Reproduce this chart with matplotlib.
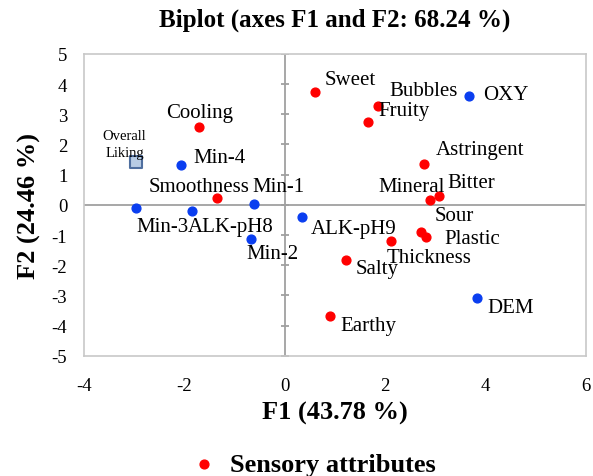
import matplotlib.pyplot as plt

plt.rcParams['font.family'] = ['Liberation Serif', 'DejaVu Serif']
plt.rcParams['axes.unicode_minus'] = False

# Sensory attributes (red)
attr_names = ['Sweet', 'Cooling', 'Bubbles', 'Fruity', 'Astringent', 'Mineral',
              'Bitter', 'Sour', 'Plastic', 'Thickness', 'Salty', 'Earthy', 'Smoothness']
attr_f1 = [0.61, -1.70, 1.86, 1.66, 2.77, 2.89, 3.07, 2.71, 2.81, 2.12, 1.23, 0.91, -1.35]
attr_f2 = [3.74, 2.58, 3.28, 2.75, 1.36, 0.17, 0.30, -0.89, -1.06, -1.19, -1.82, -3.68, 0.23]

# Samples (blue)
samp_names = ['OXY', 'DEM', 'ALK-pH9', 'Min-4', 'Min-1', 'Min-3', 'ALK-pH8', 'Min-2']
samp_f1 = [3.68, 3.84, 0.34, -2.06, -0.61, -2.97, -1.84, -0.67]
samp_f2 = [3.61, -3.08, -0.40, 1.32, 0.03, -0.10, -0.20, -1.13]

# Supplementary variable
sup_name = 'Overall\nLiking'
sup_f1 = [-2.97]
sup_f2 = [1.42]

x_ticks = [-4, -2, 0, 2, 4, 6]
y_ticks = [-5, -4, -3, -2, -1, 0, 1, 2, 3, 4, 5]

# label offsets in pixels (dx, dy)
attr_off = [(35, 12), (0, 14), (46, 15), (36, 11), (56, 14), (-18, 13), (33, 13),
            (34, 16), (47, -2), (38, -17), (31, -9), (38, -10), (-18, 11)]
samp_off = [(36, 1), (33, -10), (52, -12), (38, 7), (24, 17), (27, -19), (38, -16), (21, -15)]

fig = plt.figure(figsize=(5.93, 4.77), dpi=100)
ax = fig.add_axes([0.1417, 0.252, 0.846, 0.633])

ax.axhline(0, color='#a0a0a0', lw=1.3, zorder=1)
ax.axvline(0, color='#a0a0a0', lw=1.3, zorder=1)
ax.plot([0] * len(y_ticks), y_ticks, ls='none', marker='_', ms=6, mew=1.3, color='#a0a0a0', zorder=1)

ax.scatter(attr_f1, attr_f2, s=40, color='#ff0000', zorder=3, label='Sensory attributes')
ax.scatter(samp_f1, samp_f2, s=40, color='#0a3ef0', zorder=3)
ax.scatter(sup_f1, sup_f2, s=85, marker='s', color='#b8cce4', edgecolor='#4f6f9f', lw=1.5, zorder=3)

for n, x, y, (dx, dy) in zip(attr_names, attr_f1, attr_f2, attr_off):
    ax.annotate(n, (x, y), xytext=(dx, dy), textcoords='offset pixels',
                ha='center', va='center', fontsize=15)
for n, x, y, (dx, dy) in zip(samp_names, samp_f1, samp_f2, samp_off):
    ax.annotate(n, (x, y), xytext=(dx, dy), textcoords='offset pixels',
                ha='center', va='center', fontsize=15)
ax.annotate(sup_name, (sup_f1[0], sup_f2[0]), xytext=(-11, 18), textcoords='offset pixels',
            ha='center', va='center', fontsize=10.5, linespacing=1.4)

ax.set_xlim(-4, 6)
ax.set_ylim(-5, 5)
ax.set_xticks(x_ticks)
ax.set_yticks(y_ticks)
ax.tick_params(axis='x', length=0, labelsize=13.5, pad=15)
ax.tick_params(axis='y', length=0, labelsize=13.5, pad=12)
for s in ax.spines.values():
    s.set_color('#c8c8c8')
    s.set_linewidth(1.2)

ax.set_title('Biplot (axes F1 and F2: 68.24 %)', fontsize=18, fontweight='bold', pad=20)
ax.set_xlabel('F1 (43.78 %)', fontsize=19, fontweight='bold', labelpad=5)
ax.set_ylabel('F2 (24.46 %)', fontsize=19, fontweight='bold', labelpad=8)

fig.legend(loc='center', bbox_to_anchor=(0.517, 0.025), frameon=False,
           prop={'weight': 'bold', 'size': 19}, handletextpad=0.0, markerscale=1.0)

fig.savefig('out.png', dpi=100)
